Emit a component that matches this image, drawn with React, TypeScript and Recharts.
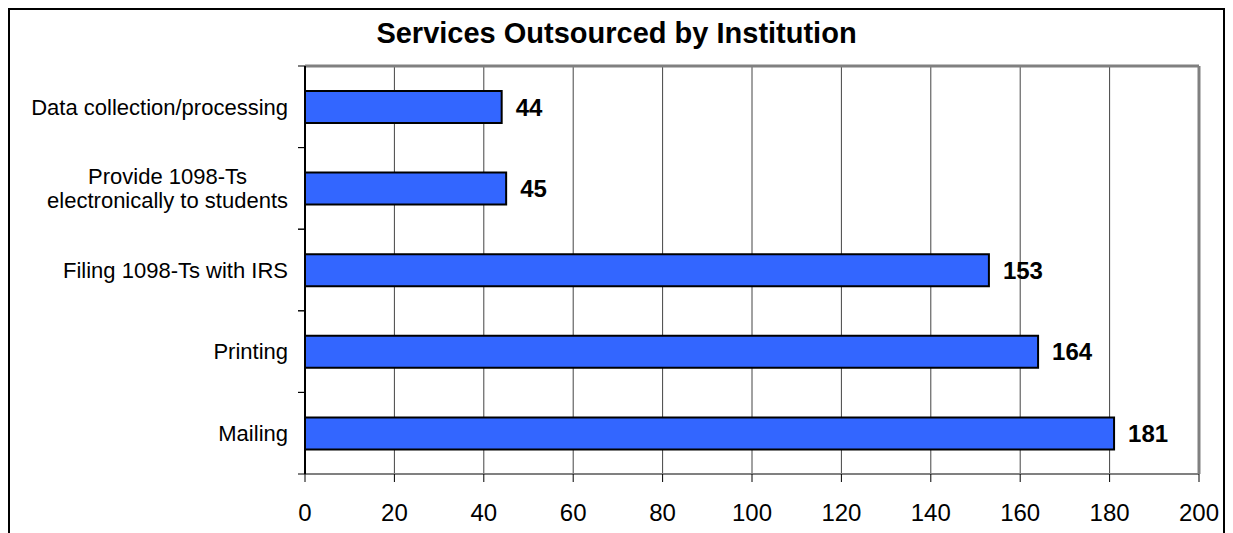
import { BarChart, Bar, XAxis, YAxis, CartesianGrid, LabelList, ReferenceLine } from 'recharts';

const services = [
  'Data collection/processing',
  'Provide 1098-Ts\nelectronically to students',
  'Filing 1098-Ts with IRS',
  'Printing',
  'Mailing',
];
const counts = [44, 45, 153, 164, 181];
const xTicks = [0, 20, 40, 60, 80, 100, 120, 140, 160, 180, 200];

const data = services.map((name, i) => ({ name, count: counts[i] }));

const FONT = '"Liberation Sans", Arial, sans-serif';
const LABEL_SIZE = 22;
const TICK_GAP = 17;

let ctx: CanvasRenderingContext2D | null = null;
const textWidth = (s: string) => {
  if (!ctx) ctx = document.createElement('canvas').getContext('2d');
  if (!ctx) return s.length * 10;
  ctx.font = `${LABEL_SIZE}px ${FONT}`;
  return ctx.measureText(s).width;
};

// label plus tick marks on the band edges (Excel style)
const CategoryTick = (props: any) => {
  const { x, y, payload } = props;
  const lines: string[] = String(payload.value).split('\n');
  const maxW = Math.max(...lines.map(textWidth));
  const half = payload.offset || 40.8;
  const axisX = x + TICK_GAP;
  return (
    <g>
      <line x1={axisX - 7} x2={axisX} y1={y - half} y2={y - half} stroke="#000" />
      <line x1={axisX - 7} x2={axisX} y1={y + half} y2={y + half} stroke="#000" />
      {lines.map((line, i) => (
        <text
          key={i}
          x={x - maxW / 2}
          y={y + (i - (lines.length - 1) / 2) * 24}
          dy="0.35em"
          textAnchor="middle"
          fontSize={LABEL_SIZE}
          fontFamily={FONT}
          fill="#000"
        >
          {line}
        </text>
      ))}
    </g>
  );
};

const App = () => {
  return (
    <div style={{ position: 'relative', width: 1217, height: 525 }}>
      {/* layer in page coordinates (undo the body margin) */}
      <div style={{ position: 'absolute', left: -8, top: -8, width: 1233, height: 533 }}>
        <div
          style={{
            position: 'absolute',
            left: 0,
            top: 18,
            width: 1233,
            textAlign: 'center',
            fontFamily: FONT,
            fontWeight: 'bold',
            fontSize: 29,
            lineHeight: '30px',
          }}
        >
          Services Outsourced by Institution
        </div>
        <div style={{ position: 'absolute', left: 0, top: 0 }}>
          <BarChart
            width={1233}
            height={533}
            data={data}
            layout="vertical"
            margin={{ top: 66, right: 34, bottom: 0, left: 0 }}
            barSize={32}
          >
            <CartesianGrid horizontal={false} stroke="#444" strokeWidth={1} />
            {/* plot top border */}
            <CartesianGrid
              vertical={false}
              horizontalCoordinatesGenerator={({ offset }: any) => [offset.top]}
              stroke="#808080"
              strokeWidth={3}
            />
            <XAxis
              type="number"
              domain={[0, 200]}
              ticks={xTicks}
              interval={0}
              height={59}
              tickSize={8}
              tickMargin={22}
              axisLine={{ stroke: '#808080', strokeWidth: 2 }}
              tickLine={{ stroke: '#000' }}
              tick={{ fontSize: 24, fontFamily: FONT, fill: '#000' }}
            />
            <YAxis
              type="category"
              dataKey="name"
              width={305}
              tickSize={0}
              tickMargin={TICK_GAP}
              interval={0}
              axisLine={{ stroke: '#000', strokeWidth: 2 }}
              tickLine={false}
              tick={<CategoryTick />}
            />
            <ReferenceLine x={200} stroke="#808080" strokeWidth={3} />
            <Bar dataKey="count" fill="#3366FF" stroke="#000" strokeWidth={2} isAnimationActive={false}>
              <LabelList
                dataKey="count"
                position="right"
                offset={14}
                style={{ fontSize: 24, fontWeight: 'bold', fontFamily: FONT, fill: '#000' }}
              />
            </Bar>
          </BarChart>
        </div>
        <svg
          width={1233}
          height={533}
          style={{ position: 'absolute', left: 0, top: 0, pointerEvents: 'none' }}
        >
          <path d="M9 540 V9 H1224 V540" fill="none" stroke="#000" strokeWidth={2} />
        </svg>
      </div>
    </div>
  );
};

export default App;
